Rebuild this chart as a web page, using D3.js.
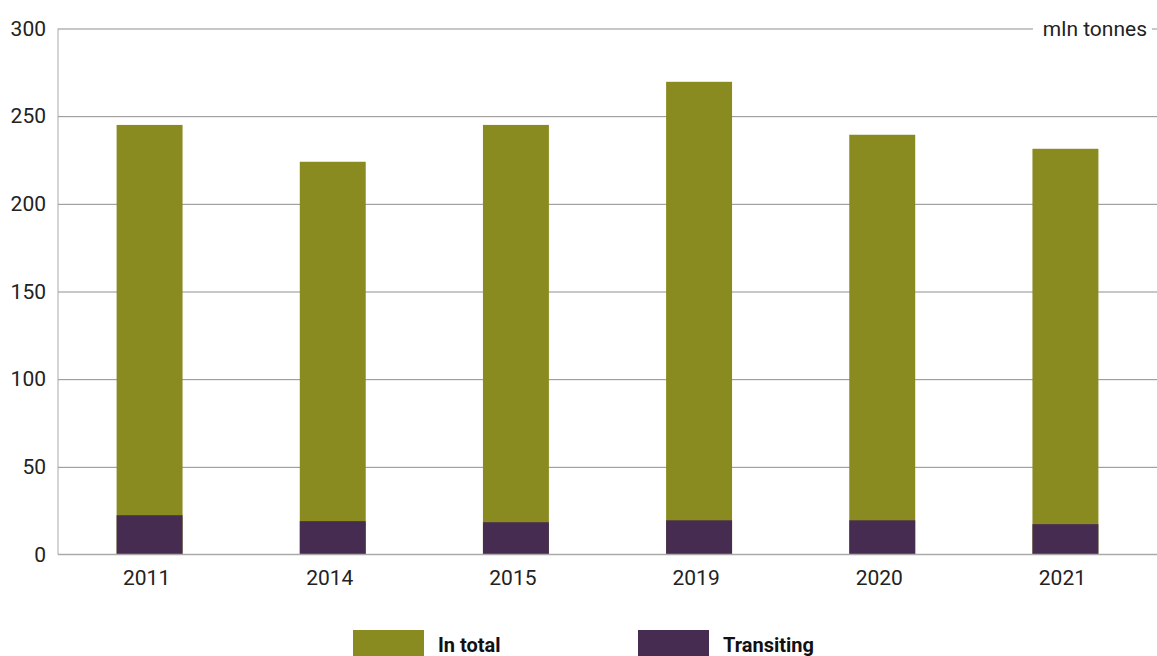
<!DOCTYPE html>
<html>
<head>
<meta charset="utf-8">
<script src="https://cdn.jsdelivr.net/npm/d3@7"></script>
<style>
  html, body { margin: 0; padding: 0; background: #fff; }
  svg { display: block; font-family: Roboto, "Noto Sans", sans-serif; }
</style>
</head>
<body>
<svg id="chart" width="1157" height="656"></svg>
<script>
// Cargo volumes by year, mln tonnes
const years = ["2011", "2014", "2015", "2019", "2020", "2021"];
const inTotal = [245, 224, 245, 269.6, 239.4, 231.4];
const transiting = [22.4, 19.0, 18.4, 19.5, 19.5, 17.3];
const yTicks = [0, 50, 100, 150, 200, 250, 300];
const seriesNames = ["In total", "Transiting"];
const seriesColors = ["#898A1F", "#472C51"];
const unitLabel = "mln tonnes";

const svg = d3.select("#chart");
const W = 1157;
const margin = { left: 58, right: 0, top: 28.5, bottom: 101.5 };
const plotBottom = 656 - margin.bottom;
const fontSize = 21;

const x = d3.scaleBand()
  .domain(years)
  .range([margin.left, W - margin.right])
  .paddingInner(0.64)
  .paddingOuter(0.32);

const y = d3.scaleLinear()
  .domain([0, 300])
  .range([plotBottom, margin.top]);

// horizontal gridlines
const grid = svg.append("g")
  .attr("transform", `translate(${margin.left},0)`)
  .call(d3.axisLeft(y).tickValues(yTicks.filter(v => v > 0))
    .tickSize(-(W - margin.left)).tickFormat(""));
grid.select(".domain").remove();
grid.selectAll(".tick line").attr("stroke", "#8f8f8f").attr("stroke-width", 1);

// left axis line
svg.append("line")
  .attr("x1", margin.left).attr("x2", margin.left)
  .attr("y1", y(300)).attr("y2", plotBottom)
  .attr("stroke", "#aaa").attr("stroke-width", 1);

// y tick labels
const yAxis = svg.append("g")
  .attr("transform", `translate(${margin.left},0)`)
  .call(d3.axisLeft(y).tickValues(yTicks).tickSize(0).tickPadding(12));
yAxis.select(".domain").remove();
yAxis.selectAll("text")
  .attr("font-size", fontSize).attr("fill", "#222")
  .attr("font-family", "Roboto, sans-serif");

// unit label sitting on the top gridline
const unit = svg.append("g");
unit.append("rect")
  .attr("x", 1033).attr("y", y(300) - 14)
  .attr("width", 119).attr("height", 28)
  .attr("fill", "#fff");
unit.append("text")
  .attr("x", 1147).attr("y", y(300))
  .attr("dy", "0.35em")
  .attr("text-anchor", "end")
  .attr("font-size", fontSize).attr("fill", "#222")
  .text(unitLabel);

// bars: total, with the transiting share drawn over its base
const bars = svg.append("g");
bars.selectAll("rect.total")
  .data(years)
  .join("rect")
  .attr("class", "total")
  .attr("x", d => x(d))
  .attr("width", x.bandwidth())
  .attr("y", (d, i) => y(inTotal[i]))
  .attr("height", (d, i) => y(0) - y(inTotal[i]))
  .attr("fill", seriesColors[0]);
bars.selectAll("rect.transit")
  .data(years)
  .join("rect")
  .attr("class", "transit")
  .attr("x", d => x(d))
  .attr("width", x.bandwidth())
  .attr("y", (d, i) => y(transiting[i]))
  .attr("height", (d, i) => y(0) - y(transiting[i]))
  .attr("fill", seriesColors[1]);

// x axis
svg.append("line")
  .attr("x1", margin.left).attr("x2", W)
  .attr("y1", plotBottom).attr("y2", plotBottom)
  .attr("stroke", "#aaa").attr("stroke-width", 1.5);
const xAxis = svg.append("g")
  .attr("transform", `translate(0,${plotBottom})`)
  .call(d3.axisBottom(x).tickSize(0).tickPadding(16));
xAxis.select(".domain").remove();
xAxis.selectAll("text")
  .attr("font-size", fontSize).attr("fill", "#222")
  .attr("font-family", "Roboto, sans-serif")
  .attr("dx", "-3");

// legend
const legendX = [353, 638];
const legend = svg.append("g");
seriesNames.forEach((name, i) => {
  const g = legend.append("g").attr("transform", `translate(${legendX[i]},630)`);
  g.append("rect").attr("width", 71).attr("height", 28).attr("fill", seriesColors[i]);
  g.append("text")
    .attr("x", 85).attr("y", 22)
    .attr("font-size", fontSize - 1).attr("font-weight", "bold").attr("fill", "#111")
    .text(name);
});
</script>
</body>
</html>
